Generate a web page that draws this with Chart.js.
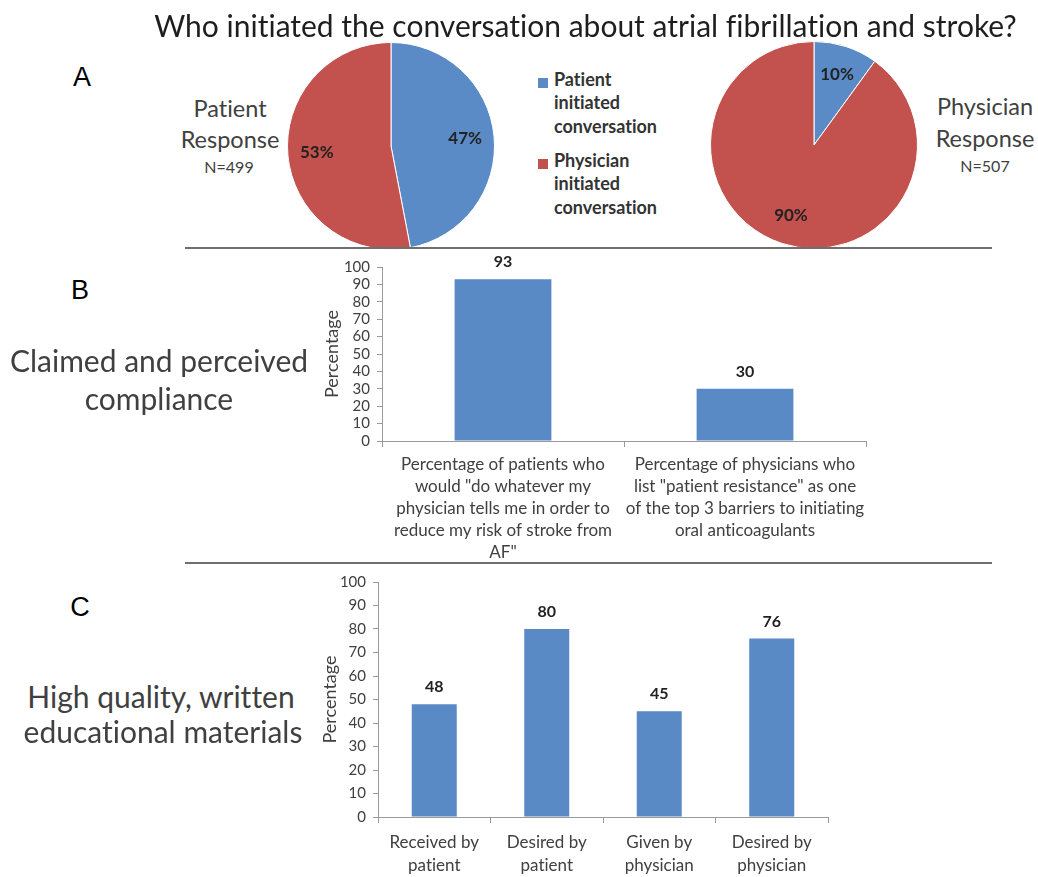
<!DOCTYPE html>
<html>
<head>
<meta charset="utf-8">
<title>Atrial fibrillation and stroke: conversation, compliance, materials</title>
<script src="https://cdn.jsdelivr.net/npm/chart.js@4.4.1/dist/chart.umd.min.js"></script>
<style>
  html, body { margin: 0; padding: 0; background: #fff; }
  #page { position: relative; width: 1038px; height: 877px; overflow: hidden; font-family: Lato, "Open Sans", sans-serif; font-variant-ligatures: none; }
  .t { position: absolute; white-space: nowrap; font-variant-ligatures: none; }
  canvas { position: absolute; }
  .rule { position: absolute; height: 2px; background: #6f6f6f; }
  .swatch { position: absolute; width: 10px; height: 10px; }
</style>
</head>
<body>
<div id="page">
  <canvas id="piePatient" width="208" height="208" style="left:287px;top:42px;width:208px;height:208px"></canvas>
  <canvas id="piePhysician" width="208" height="208" style="left:710px;top:41px;width:208px;height:208px"></canvas>
  <canvas id="barCompliance" width="580" height="320" style="left:300px;top:250px;width:580px;height:320px"></canvas>
  <canvas id="barMaterials" width="540" height="312" style="left:300px;top:565px;width:540px;height:312px"></canvas>
  <div class="rule" style="left:185px;top:247px;width:807px"></div>
  <div class="rule" style="left:185px;top:562px;width:807px"></div>
</div>
<script>
// ---- data ----
const sliceNames = ['Patient initiated conversation', 'Physician initiated conversation'];
const sliceColors = ['#5B8BC6', '#C3524F'];
const patientResponse = [47, 53];
const physicianResponse = [10, 90];

const complianceCategories = [
  ['Percentage of patients who', 'would "do whatever my', 'physician tells me in order to', 'reduce my risk of stroke from', 'AF"'],
  ['Percentage of physicians who', 'list "patient resistance" as one', 'of the top 3 barriers to initiating', 'oral anticoagulants']
];
const complianceValues = [93, 30];

const materialsCategories = [
  ['Received by', 'patient'],
  ['Desired by', 'patient'],
  ['Given by', 'physician'],
  ['Desired by', 'physician']
];
const materialsValues = [48, 80, 45, 76];

const percentAxis = { min: 0, max: 100, step: 10, title: 'Percentage' };
const barColor = '#5A8AC6';

// ---- text helpers ----
const page = document.getElementById('page');
function addText(str, x, baseline, size, opts = {}) {
  const d = document.createElement('div');
  d.className = 't';
  d.textContent = str;
  const arial = opts.family === 'arial';
  const fam = arial ? '"Liberation Sans", Arial, sans-serif' : 'Lato, "Open Sans", sans-serif';
  const asc = arial ? 0.9465 : 0.987;
  d.style.fontFamily = fam;
  d.style.fontSize = size + 'px';
  d.style.fontWeight = opts.weight || 'normal';
  d.style.lineHeight = (size * 1.2) + 'px';
  d.style.color = opts.color || '#404040';
  d.style.top = (baseline - asc * size) + 'px';
  d.style.left = x + 'px';
  if (opts.align !== 'left') d.style.transform = 'translateX(-50%)';
  page.appendChild(d);
  return d;
}

// headline and panel captions
addText('Who initiated the conversation about atrial fibrillation and stroke?', 585.5, 37, 30, { color: '#1e1e1e' });
addText('A', 82, 87, 27, { family: 'arial', color: '#000' });
addText('B', 80, 300, 27, { family: 'arial', color: '#000' });
addText('C', 80, 617, 27, { family: 'arial', color: '#000' });

addText('Patient', 230, 117, 23.5);
addText('Response', 230, 148, 23.5);
addText('N=499', 229, 173, 16);
addText('Physician', 985, 115, 23.5);
addText('Response', 985, 147, 23.5);
addText('N=507', 985, 172, 16);

addText('Claimed and perceived', 159, 372, 30);
addText('compliance', 159, 410, 30);
addText('High quality, written', 161, 708, 30);
addText('educational materials', 163, 743, 30);

// shared legend for both pies
const legendTop = [78, 159];
sliceNames.forEach((name, i) => {
  const sw = document.createElement('div');
  sw.className = 'swatch';
  sw.style.left = '538px';
  sw.style.top = legendTop[i] + 'px';
  sw.style.background = sliceColors[i];
  page.appendChild(sw);
  name.split(' ').forEach((w, j) => {
    addText(w, 554, legendTop[i] + 8.5 + j * 23.5, 18, { weight: 'bold', color: '#333', align: 'left' });
  });
});

// ---- plugins ----
const pieValueLabels = {
  id: 'pieValueLabels',
  afterDatasetsDraw(chart) {
    const { ctx } = chart;
    const values = chart.data.datasets[0].data;
    ctx.save();
    ctx.font = 'bold 17px Lato, sans-serif';
    ctx.fillStyle = '#222';
    ctx.textAlign = 'center';
    ctx.textBaseline = 'middle';
    chart.getDatasetMeta(0).data.forEach((arc, i) => {
      const p = arc.getProps(['x', 'y', 'startAngle', 'endAngle', 'outerRadius'], true);
      const mid = (p.startAngle + p.endAngle) / 2;
      const r = p.outerRadius * 0.72;
      ctx.fillText(values[i] + '%', p.x + Math.cos(mid) * r, p.y + Math.sin(mid) * r);
    });
    ctx.restore();
  }
};

const barValueLabels = {
  id: 'barValueLabels',
  afterDatasetsDraw(chart) {
    const { ctx } = chart;
    const values = chart.data.datasets[0].data;
    ctx.save();
    ctx.font = 'bold 16px Lato, sans-serif';
    ctx.fillStyle = '#222';
    ctx.textAlign = 'center';
    ctx.textBaseline = 'middle';
    chart.getDatasetMeta(0).data.forEach((bar, i) => {
      ctx.fillText(String(values[i]), bar.x, bar.y - 17);
    });
    ctx.restore();
  }
};

// ---- pies ----
function makePie(id, values) {
  return new Chart(document.getElementById(id), {
    type: 'pie',
    data: {
      labels: sliceNames,
      datasets: [{ data: values, backgroundColor: sliceColors, borderColor: '#ffffff', borderWidth: 1 }]
    },
    options: {
      responsive: false,
      animation: false,
      layout: { padding: 0 },
      plugins: { legend: { display: false }, tooltip: { enabled: false } }
    },
    plugins: [pieValueLabels]
  });
}
makePie('piePatient', patientResponse);
makePie('piePhysician', physicianResponse);

// ---- bars ----
const axisGray = '#9a9a9a';
function makeBar(id, categories, values, cfg) {
  return new Chart(document.getElementById(id), {
    type: 'bar',
    data: {
      labels: categories,
      datasets: [{ data: values, backgroundColor: barColor, borderWidth: 0, barPercentage: 0.4, categoryPercentage: 1 }]
    },
    options: {
      responsive: false,
      animation: false,
      layout: { padding: { top: cfg.padTop, right: cfg.padRight, left: 0, bottom: 0 } },
      plugins: { legend: { display: false }, tooltip: { enabled: false } },
      scales: {
        x: {
          grid: { offset: true, drawOnChartArea: false, drawTicks: true, tickLength: 6, color: axisGray },
          border: { color: axisGray, width: 1 },
          ticks: {
            autoSkip: false, maxRotation: 0, minRotation: 0, padding: cfg.xPad,
            color: '#404040', font: { family: 'Lato', size: 17, lineHeight: cfg.xLine }
          },
          afterFit(s) { s.height = cfg.xHeight; }
        },
        y: {
          min: percentAxis.min, max: percentAxis.max,
          ticks: {
            stepSize: percentAxis.step, autoSkip: false, maxTicksLimit: 11, padding: 7,
            color: '#404040', font: { family: 'Lato', size: 15, lineHeight: 1 }
          },
          grid: { drawOnChartArea: false, drawTicks: true, tickLength: 5, color: axisGray },
          border: { color: axisGray, width: 1 },
          title: {
            display: true, text: percentAxis.title, color: '#404040',
            font: { family: 'Lato', size: 18 }, padding: { top: cfg.titlePad, bottom: 0 }
          },
          afterFit(s) { s.width = cfg.yWidth; }
        }
      }
    },
    plugins: [barValueLabels]
  });
}

makeBar('barCompliance', complianceCategories, complianceValues, {
  padTop: 17, padRight: 14, xHeight: 129, yWidth: 82, xPad: 7, xLine: 22 / 17, titlePad: 21.2
});
makeBar('barMaterials', materialsCategories, materialsValues, {
  padTop: 17, padRight: 12, xHeight: 60, yWidth: 78, xPad: 8.5, xLine: 23 / 17, titlePad: 19.2
});
</script>
</body>
</html>
